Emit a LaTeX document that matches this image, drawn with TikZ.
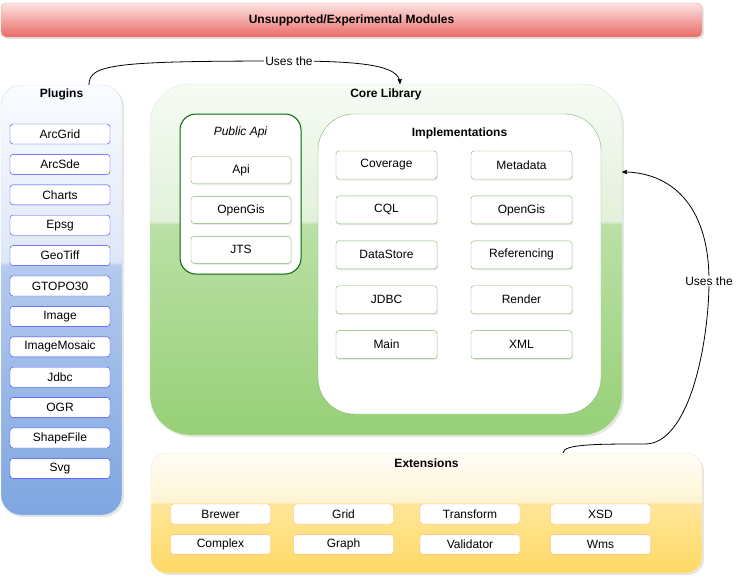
\documentclass[tikz,border=0pt]{standalone}
\usepackage{fontspec}
\setmainfont{Liberation Sans}
\usetikzlibrary{arrows,positioning,shadows}
\definecolor{redtop}{HTML}{FCE2E1}
\definecolor{redbot}{HTML}{EA6B66}
\definecolor{redline}{HTML}{E9A5A3}
\definecolor{blueline}{HTML}{D6DEEC}
\definecolor{plugline}{HTML}{3A3AFF}
\definecolor{greenline}{HTML}{D8EAD0}
\definecolor{apiline}{HTML}{006600}
\definecolor{modline}{HTML}{82B366}
\definecolor{yellowline}{HTML}{F5E8C4}
\definecolor{extline}{HTML}{FFB570}
% glass like fills of the big groups
\pgfdeclareverticalshading{blueglass}{100bp}{color(0bp)=(rgb,255:red,126;green,166;blue,224); color(25bp)=(rgb,255:red,126;green,166;blue,224); color(54bp)=(rgb,255:red,180;green,202;blue,238); color(54.5bp)=(rgb,255:red,222;green,231;blue,247); color(75bp)=(rgb,255:red,250;green,252;blue,255); color(100bp)=(rgb,255:red,250;green,252;blue,255)}
\pgfdeclareverticalshading{greenglass}{100bp}{color(0bp)=(rgb,255:red,151;green,208;blue,119); color(25bp)=(rgb,255:red,151;green,208;blue,119); color(55bp)=(rgb,255:red,186;green,224;blue,166); color(55.5bp)=(rgb,255:red,226;green,241;blue,219); color(75bp)=(rgb,255:red,246;green,251;blue,244); color(100bp)=(rgb,255:red,246;green,251;blue,244)}
\pgfdeclareverticalshading{yellowglass}{100bp}{color(0bp)=(rgb,255:red,255;green,217;blue,102); color(25bp)=(rgb,255:red,255;green,217;blue,102); color(54bp)=(rgb,255:red,255;green,230;blue,153); color(54.5bp)=(rgb,255:red,255;green,244;blue,210); color(75bp)=(rgb,255:red,255;green,253;blue,248); color(100bp)=(rgb,255:red,255;green,253;blue,248)}
\tikzset{
    %Define standard arrow tip
    >=stealth',
    %Define style for the top bar
    banner/.style={
           rectangle,
           rounded corners=5pt,
           draw=redline,
           top color=redtop, bottom color=redbot,
           minimum width=701pt,
           minimum height=34pt,
           font=\fontsize{12}{14}\selectfont\bfseries,
           drop shadow={opacity=0.2,shadow xshift=2pt,shadow yshift=-2pt}},
    %Define style for the big groups
    group/.style={
           rectangle,
           draw=#1line,
           shading=#1glass,
           drop shadow={opacity=0.2,shadow xshift=2pt,shadow yshift=-2pt}},
    %Define style for the inner groups
    inner/.style={
           rectangle,
           fill=white,
           draw=#1},
    title/.style={
           inner sep=0pt,
           font=\fontsize{12}{14}\selectfont\bfseries},
    %Define style for the boxes
    plugin/.style={
           rectangle,
           rounded corners=3pt,
           draw=plugline, fill=white,
           minimum width=100pt,
           minimum height=20pt,
           inner sep=0pt},
    module/.style={
           rectangle,
           rounded corners=3pt,
           draw=modline, fill=white,
           minimum width=101pt,
           minimum height=28pt,
           inner sep=0pt,
           drop shadow={opacity=0.15,shadow xshift=1pt,shadow yshift=-1.5pt}},
    ext/.style={
           rectangle,
           rounded corners=3pt,
           draw=extline, fill=white,
           minimum width=100pt,
           minimum height=20pt,
           inner sep=0pt},
    % Define arrow style
    uses/.style={
           ->,
           line width=0.8pt},
    useslabel/.style={
           fill=white,
           inner sep=1pt}
}

\begin{document}
\begin{tikzpicture}[x=1pt, y=-1pt, font=\fontsize{12}{14}\selectfont]
 \useasboundingbox (0,0) rectangle (738,579);
 %groups
    \node[banner] (unsupported) at (351.5,20) {Unsupported/Experimental Modules};
    \node[group=blue, rounded corners=20pt, minimum width=121pt, minimum height=430pt] (plugins) at (61.5,300) {};
    \node[group=green, rounded corners=40pt, minimum width=472pt, minimum height=351pt] (core) at (386,259.5) {};
    \node[group=yellow, rounded corners=16pt, minimum width=551pt, minimum height=120pt] (extensions) at (426.5,513) {};
    \node[inner=apiline, line width=1pt, rounded corners=16pt, minimum width=121pt, minimum height=160pt] (publicapi) at (240.5,194) {};
    \node[inner=modline, rounded corners=36pt, minimum width=283pt, minimum height=300pt] (impl) at (459.5,264) {};
 %titles
    \node[title, below=4pt of plugins.north] (plugtitle) {Plugins};
    \node[title, below=5pt of core.north] (coretitle) {Core Library};
    \node[title, font=\fontsize{12}{14}\selectfont\itshape, below=13pt of publicapi.north] (apititle) {Public Api};
    \node[title, below=14pt of impl.north] (impltitle) {Implementations};
    \node[title, below=6pt of extensions.north] (exttitle) {Extensions};
 %plugins
    \node[plugin] (arcgrid) at (60,134) {ArcGrid};
    \node[plugin, below=10pt of arcgrid] (arcsde) {ArcSde};
    \node[plugin, below=10pt of arcsde] (charts) {Charts};
    \node[plugin, below=10pt of charts] (epsg) {Epsg};
    \node[plugin, below=10pt of epsg] (geotiff) {GeoTiff};
    \node[plugin, below=10pt of geotiff] (gtopo) {GTOPO30};
    \node[plugin, below=10pt of gtopo] (image) {Image};
    \node[plugin, below=10pt of image] (mosaic) {ImageMosaic};
    \node[plugin, below=10pt of mosaic] (jdbcplug) {Jdbc};
    \node[plugin, below=10pt of jdbcplug] (ogr) {OGR};
    \node[plugin, below=10pt of ogr] (shapefile) {ShapeFile};
    \node[plugin, below=10pt of shapefile] (svg) {Svg};
 %public api
    \node[module, minimum width=100pt, minimum height=27pt] (api) at (241,170) {Api};
    \node[module, minimum width=100pt, minimum height=27pt, below=12.5pt of api] (apiopengis) {OpenGis};
    \node[module, minimum width=100pt, minimum height=27pt, below=12.5pt of apiopengis] (jts) {JTS};
 %implementations
    \node[module] (coverage) at (386.5,165) {Coverage};
    \node[module, below=16.5pt of coverage] (cql) {CQL};
    \node[module, below=16.5pt of cql] (datastore) {DataStore};
    \node[module, below=16.5pt of datastore] (jdbc) {JDBC};
    \node[module, below=16.5pt of jdbc] (main) {Main};
    \node[module] (metadata) at (521.5,165) {Metadata};
    \node[module, below=16.5pt of metadata] (opengis) {OpenGis};
    \node[module, below=16.5pt of opengis] (referencing) {Referencing};
    \node[module, below=16.5pt of referencing] (render) {Render};
    \node[module, below=16.5pt of render] (xml) {XML};
 %extensions
    \node[ext] (brewer) at (220.5,514) {Brewer};
    \node[ext] (grid) at (343.5,514) {Grid};
    \node[ext] (transform) at (470,514) {Transform};
    \node[ext] (xsd) at (600.5,514) {XSD};
    \node[ext, below=10pt of brewer] (complex) {Complex};
    \node[ext, below=10pt of grid] (graph) {Graph};
    \node[ext, below=10pt of transform] (validator) {Validator};
    \node[ext, below=10pt of xsd] (wms) {Wms};
 %edges
    \coordinate (leftbend) at (289,61);
    \coordinate (rightlow) at (645,444);
    \coordinate (rightbend) at (709,281);
    \draw[uses] ([xshift=27.5pt]plugins.north) .. controls (89,64) and (115,61) .. (leftbend)
        .. controls (365,61) and (399,66) .. ([xshift=14pt]core.north);
    \draw[uses] ([xshift=136.5pt]extensions.north) .. controls +(0,-9) and +(-45,0) .. (rightlow)
        .. controls +(45,0) and +(0,60) .. (rightbend)
        .. controls +(0,-80) and +(45,0) .. ([yshift=87.5pt]core.east);
    \node[useslabel] (usesleft) at (leftbend) {Uses the};
    \node[useslabel] (usesright) at (rightbend) {Uses the};
\end{tikzpicture}
\end{document}
